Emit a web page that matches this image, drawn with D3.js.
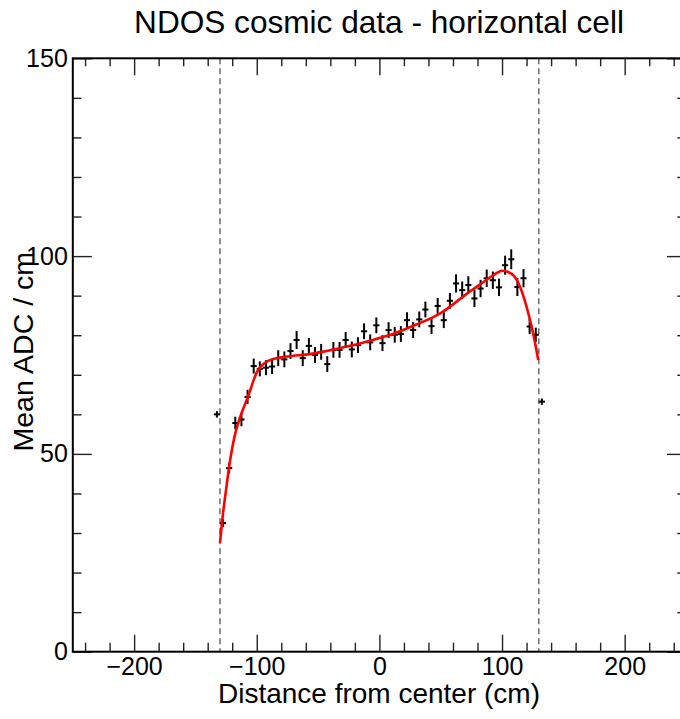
<!DOCTYPE html>
<html>
<head>
<meta charset="utf-8">
<style>
body { margin: 0; background: #fff; }
#thevis { display: block; background-color: #fff; }
text { font-family: "Liberation Sans", Arial, sans-serif; fill: #000; }
.tick text { font-size: 25px; }
.tick line { stroke: #222; stroke-width: 1.4; }
.frame { fill: none; stroke: #000; stroke-width: 2; }
.cut { stroke: #555; stroke-width: 1.3; stroke-dasharray: 6,4; }
.err line { stroke: #000; stroke-width: 2; }
.fit { fill: none; stroke: #ff0000; stroke-width: 2.6; }
</style>
</head>
<body>
<svg id="thevis" width="680" height="719"></svg>
<script src="https://cdn.jsdelivr.net/npm/d3@7"></script>
<script>

// bin centres (cm), mean ADC/cm and its error
var binX = [-132.5, -127.5, -122.5, -117.5, -112.5, -107.5, -102.5, -97.5, -92.5, -87.5,
  -82.5, -77.5, -72.5, -67.5, -62.5, -57.5, -52.5, -47.5, -42.5, -37.5,
  -32.5, -27.5, -22.5, -17.5, -12.5, -7.5, -2.5, 2.5, 7.5, 12.5,
  17.5, 22.5, 27.5, 32.5, 37.5, 42.5, 47.5, 52.5, 57.5, 62.5,
  67.5, 72.5, 77.5, 82.5, 87.5, 92.5, 97.5, 102.5, 107.5, 112.5,
  117.5, 122.5, 127.5, 132.5];
var meanADC = [60.0, 32.5, 46.4, 57.8, 58.7, 64.4, 72.2, 71.5, 71.8, 72.1,
  74.2, 73.9, 76.0, 78.8, 74.2, 77.3, 75.0, 75.8, 72.7, 76.3,
  76.3, 78.8, 76.4, 77.5, 81.0, 78.2, 82.5, 78.0, 81.3, 80.1,
  80.3, 83.8, 81.3, 84.0, 86.5, 82.3, 87.4, 83.8, 88.7, 93.1,
  91.4, 92.7, 89.3, 91.8, 94.4, 93.9, 92.1, 97.7, 99.2, 92.2,
  94.4, 82.2, 80.1, 63.2];
var errADC = [0.8, 1.0, 1.3, 1.6, 1.7, 1.8, 1.9, 1.9, 1.9, 1.9,
  2.0, 2.0, 2.0, 2.3, 2.0, 2.0, 2.0, 2.0, 2.0, 2.0,
  2.0, 2.0, 2.0, 2.0, 2.0, 2.0, 2.0, 2.0, 2.0, 2.0,
  2.0, 2.0, 2.0, 2.0, 2.0, 2.0, 2.0, 2.0, 2.0, 2.3,
  2.2, 2.2, 2.2, 2.2, 2.2, 2.2, 2.2, 2.4, 2.5, 2.3,
  2.3, 1.9, 1.8, 0.8];
var halfBin = 2.5;

// fitted curve
var fitX = [-130, -127.5, -125, -122.5, -120, -117.5, -115, -112.5, -110, -107.5,
  -105, -102.5, -100, -97.5, -95, -92.5, -87.5, -80, -70, -60,
  -50, -40, -30, -20, -10, 0, 10, 20, 30, 40,
  50, 60, 70, 80, 90, 95, 100, 105, 110, 115,
  120, 124, 127, 129.5];
var fitY = [27.5, 35.0, 41.0, 46.8, 51.5, 55.2, 57.9, 60.2, 62.2, 64.2,
  66.4, 68.7, 70.6, 71.8, 72.6, 73.2, 73.9, 74.4, 74.8, 75.1,
  75.6, 76.2, 76.9, 77.6, 78.4, 79.3, 80.2, 81.4, 82.7, 84.0,
  85.6, 87.8, 90.2, 92.4, 94.6, 95.6, 96.3, 96.0, 94.9, 92.0,
  87.2, 82.3, 78.0, 73.7];

var cutLines = [-130, 130];
var xMajor = [-200, -100, 0, 100, 200];
var xMinor = [-240, -220, -180, -160, -140, -120, -80, -60, -40, -20,
  20, 40, 60, 80, 120, 140, 160, 180, 220, 240];
var yMajor = [0, 50, 100, 150];
var yMinor = [10, 20, 30, 40, 60, 70, 80, 90, 110, 120, 130, 140];

var svg = d3.select("#thevis");

var x = d3.scaleLinear().domain([-250, 250]).range([72.8, 686]);
var y = d3.scaleLinear().domain([0, 150]).range([651.7, 58.3]);

// title
svg.append("text")
  .attr("x", 379)
  .attr("y", 33)
  .attr("text-anchor", "middle")
  .style("font-size", "31.6px")
  .text("NDOS cosmic data - horizontal cell");

// dashed cut lines
svg.selectAll(".cut")
  .data(cutLines)
  .enter().append("line")
  .attr("class", "cut")
  .attr("x1", function(d) { return x(d); })
  .attr("x2", function(d) { return x(d); })
  .attr("y1", y(150))
  .attr("y2", y(0));

// ticks on all four sides, pointing inwards
function addAxis(axis, tf, labels) {
  var g = svg.append("g").attr("transform", tf).call(axis);
  g.select(".domain").remove();
  if (!labels) g.selectAll(".tick text").remove();
  return g;
}

addAxis(d3.axisBottom(x).tickValues(xMinor).tickSize(-9), "translate(0," + y(0) + ")", false);
addAxis(d3.axisBottom(x).tickValues(xMajor).tickSize(-17).tickPadding(6), "translate(0," + y(0) + ")", true);
addAxis(d3.axisTop(x).tickValues(xMinor).tickSize(-8), "translate(0," + y(150) + ")", false);
addAxis(d3.axisTop(x).tickValues(xMajor).tickSize(-17), "translate(0," + y(150) + ")", false);

addAxis(d3.axisLeft(y).tickValues(yMinor).tickSize(-8.7), "translate(" + x(-250) + ",0)", false);
addAxis(d3.axisLeft(y).tickValues(yMajor).tickSize(-19).tickPadding(5), "translate(" + x(-250) + ",0)", true);
addAxis(d3.axisRight(y).tickValues(yMinor).tickSize(-8.7), "translate(" + x(250) + ",0)", false);
addAxis(d3.axisRight(y).tickValues(yMajor).tickSize(-19), "translate(" + x(250) + ",0)", false);

// frame
svg.append("rect")
  .attr("class", "frame")
  .attr("x", x(-250))
  .attr("y", y(150))
  .attr("width", x(250) - x(-250))
  .attr("height", y(0) - y(150));

// error bars
var pts = binX.map(function(v, i) { return { x: v, y: meanADC[i], e: errADC[i] }; });

var err = svg.selectAll(".err")
  .data(pts)
  .enter().append("g")
  .attr("class", "err");

err.append("line")
  .attr("x1", function(d) { return x(d.x); })
  .attr("x2", function(d) { return x(d.x); })
  .attr("y1", function(d) { return y(d.y - d.e); })
  .attr("y2", function(d) { return y(d.y + d.e); });

err.append("line")
  .attr("x1", function(d) { return x(d.x - halfBin); })
  .attr("x2", function(d) { return x(d.x + halfBin); })
  .attr("y1", function(d) { return y(d.y); })
  .attr("y2", function(d) { return y(d.y); });

// fit
var line = d3.line()
  .x(function(d) { return x(d[0]); })
  .y(function(d) { return y(d[1]); })
  .curve(d3.curveMonotoneX);

svg.append("path")
  .attr("class", "fit")
  .attr("d", line(fitX.map(function(v, i) { return [v, fitY[i]]; })));

// axis titles
svg.append("text")
  .attr("x", 379)
  .attr("y", 703)
  .attr("text-anchor", "middle")
  .style("font-size", "28px")
  .text("Distance from center (cm)");

svg.append("text")
  .attr("transform", "translate(33,252) rotate(-90)")
  .attr("text-anchor", "end")
  .style("font-size", "28.5px")
  .text("Mean ADC / cm");

</script>
</body>
</html>
